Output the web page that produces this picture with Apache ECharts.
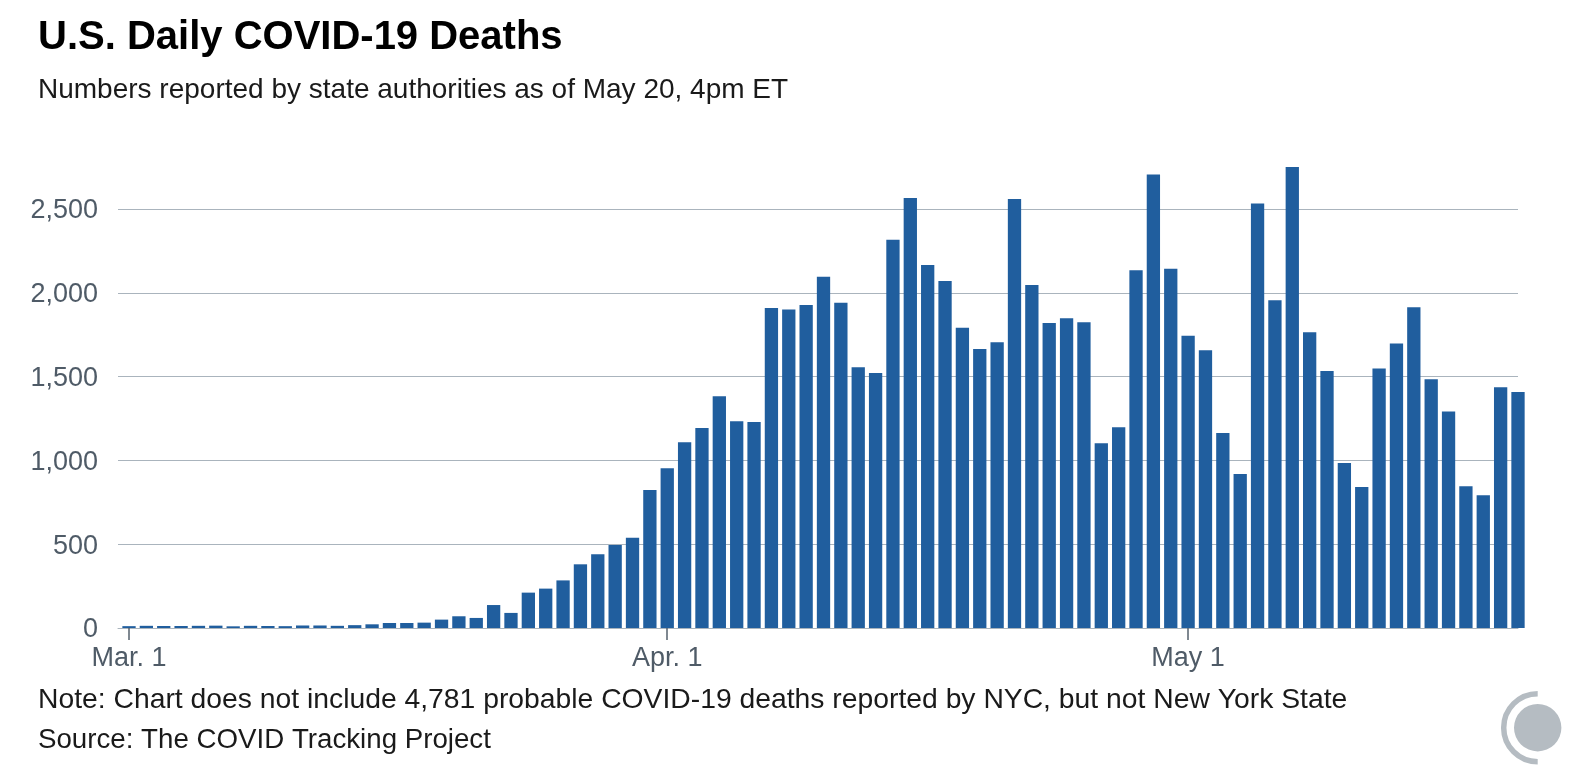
<!DOCTYPE html>
<html>
<head>
<meta charset="utf-8">
<style>html,body{margin:0;padding:0;background:#fff}#c{width:1584px;height:782px}</style>
<script src="https://cdn.jsdelivr.net/npm/echarts@6/dist/echarts.min.js"></script>
</head>
<body>
<div id="c"></div>
<script>
const titleText = "U.S. Daily COVID-19 Deaths";
const subtitleText = "Numbers reported by state authorities as of May 20, 4pm ET";
const noteText = "Note: Chart does not include 4,781 probable COVID-19 deaths reported by NYC, but not New York State";
const sourceText = "Source: The COVID Tracking Project";

// Daily deaths, Mar. 1 (day 0) through May 20 (day 80)
const marchDeaths = [11,13,12,12,13,14,10,13,12,11,15,15,13,17,22,30,30,32,50,70,60,137,90,211,235,284,380,440,495,539,823];
const aprilDeaths = [953,1108,1193,1382,1233,1229,1909,1901,1927,2096,1941,1555,1521,2317,2566,2166,2070,1792,1665,1705,2560,2047,1820,1848,1824,1102,1197,2134,2705,2144];
const mayDeaths = [1744,1657,1163,919,2532,1955,2751,1764,1533,985,841,1549,1698,1913,1484,1291,845,792,1436,1408];
const deaths = marchDeaths.concat(aprilDeaths, mayDeaths);

const xTickDays = [0, 31, 61];
const xTickLabels = ["Mar. 1", "Apr. 1", "May 1"];
const yTicks = [0, 500, 1000, 1500, 2000, 2500];

const FONT = '"Liberation Sans", Arial, sans-serif';
const TICK = '#4f5b67', GRID = '#aab4bd', BAR = '#205e9e', LOGO = '#b5bcc2';

const chart = echarts.init(document.getElementById('c'), null, {renderer: 'canvas'});
chart.setOption({
  backgroundColor: '#fff',
  animation: false,
  title: [
    {text: titleText, left: 38, top: 18, padding: 0, textStyle: {fontFamily: FONT, fontSize: 40, fontWeight: 'bold', color: '#000'}},
    {text: subtitleText, left: 38, top: 76, padding: 0, textStyle: {fontFamily: FONT, fontSize: 28, fontWeight: 'normal', color: '#1a1a1a'}},
    {text: noteText, left: 38, top: 686, padding: 0, textStyle: {fontFamily: FONT, fontSize: 28.3, fontWeight: 'normal', color: '#1a1a1a'}},
    {text: sourceText, left: 38, top: 726, padding: 0, textStyle: {fontFamily: FONT, fontSize: 27.7, fontWeight: 'normal', color: '#1a1a1a'}}
  ],
  grid: {left: 118, right: 66, top: 158.7, bottom: 154, containLabel: false},
  xAxis: {
    type: 'value', min: -0.634, max: 80, z: 1,
    splitLine: {show: false},
    axisLine: {show: true, onZero: true, lineStyle: {color: GRID, width: 1}},
    axisTick: {show: true, length: 12, customValues: xTickDays, lineStyle: {color: '#55626e', width: 1.5}},
    axisLabel: {
      customValues: xTickDays, margin: 17, color: TICK, fontFamily: FONT, fontSize: 27,
      formatter: v => xTickLabels[xTickDays.indexOf(v)] || ''
    }
  },
  yAxis: {
    type: 'value', min: 0, max: 2800, z: 1,
    axisLine: {show: false},
    axisTick: {show: false, customValues: yTicks},
    splitLine: {show: true, lineStyle: {color: GRID, width: 1.2}},
    axisLabel: {
      customValues: yTicks, margin: 20, color: TICK, fontFamily: FONT, fontSize: 27,
      verticalAlign: 'top', lineHeight: 4,
      formatter: v => v.toLocaleString('en-US')
    }
  },
  series: [{
    type: 'bar', clip: false, barWidth: 13.3, z: 5,
    itemStyle: {color: BAR},
    data: deaths.map((v, i) => [i, v])
  }],
  graphic: [
    {type: 'circle', shape: {cx: 1537.7, cy: 727.7, r: 23.7}, style: {fill: LOGO}},
    {type: 'arc', shape: {cx: 1537.7, cy: 727.7, r: 34, startAngle: Math.PI / 2, endAngle: Math.PI * 1.5, clockwise: true},
     style: {stroke: LOGO, fill: 'none', lineWidth: 5.5}}
  ]
});
</script>
</body>
</html>
